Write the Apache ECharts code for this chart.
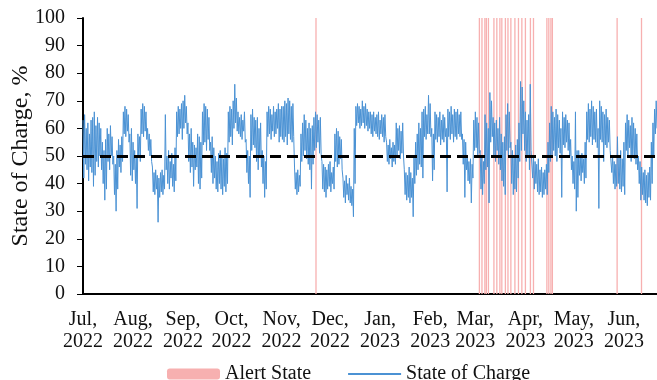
<!DOCTYPE html>
<html>
<head>
<meta charset="utf-8">
<script src="https://cdn.jsdelivr.net/npm/echarts@6/dist/echarts.min.js"></script>
<style>html,body{margin:0;padding:0;background:#fff}#c{width:657px;height:380px}</style>
</head>
<body>
<div id="c"></div>
<script>
// Day 0 = 1 Jul 2022
var monthStartDays = [0, 31, 62, 92, 123, 153, 184, 215, 243, 274, 304, 335];
var monthLabels = ['Jul,\n2022','Aug,\n2022','Sep,\n2022','Oct,\n2022','Nov,\n2022','Dec,\n2022','Jan,\n2023','Feb,\n2023','Mar,\n2023','Apr,\n2023','May,\n2023','Jun,\n2023'];

// daily high / low of State of Charge (%), days 0..355
var socHigh = [
63,65,60,62,58,63,64,66,61,64,62,60,55,52,56,60,58,61,57,50,47,52,56,54,57,66,68,67,65,58,60,55,52,50,58,57,67,69,68,66,60,58,56,46,44,45,43,42,44,45,43,65,50,52,48,51,47,53,66,68,67,69,70,72,68,62,58,60,55,54,53,58,
57,55,66,69,68,67,64,55,57,53,50,48,51,52,50,49,53,51,66,68,67,70,76,71,66,64,65,63,66,56,52,50,65,67,64,63,64,60,62,52,50,48,66,68,67,65,68,66,67,69,67,68,68,70,69,71,70,68,69,46,44,45,43,58,62,65,63,60,
62,60,61,64,66,65,63,64,48,47,46,45,47,48,44,46,58,60,59,57,56,42,41,43,40,42,39,38,60,68,69,68,67,70,68,69,67,66,66,65,66,64,65,66,63,65,64,65,55,54,56,53,55,54,62,60,61,59,62,45,44,43,46,44,42,50,55,58,62,60,
66,67,68,65,72,69,60,58,66,65,64,66,63,65,64,60,67,66,68,65,67,66,67,65,66,58,56,55,50,48,49,47,63,66,64,62,52,50,48,65,62,60,73,70,64,62,63,60,64,58,55,57,65,69,66,55,52,50,54,56,62,77,75,70,66,63,65,76,52,50,48,47,49,45,46,44,45,47,55,62,68,66,64,67,65,63,60,66,64,65,63,62,
56,50,48,66,52,52,50,51,49,55,66,69,67,70,68,66,67,60,70,68,66,65,67,64,63,52,50,48,47,57,50,52,49,55,62,65,63,61,64,62,60,58,50,48,46,44,45,43,44,46,55,62,67,70
];
var socLow = [
42,47,45,41,46,44,39,43,48,46,50,45,40,34,38,48,45,50,47,36,30,38,46,44,48,58,57,59,55,43,41,45,40,31,50,48,58,57,59,56,52,50,48,37,36,38,26,35,37,36,38,45,40,38,42,39,37,41,57,58,60,56,60,62,58,48,44,46,39,45,46,40,
38,42,54,55,52,56,52,44,40,42,38,37,40,38,36,39,37,40,55,57,54,60,62,59,58,57,56,59,55,44,40,35,52,54,53,48,45,50,46,40,35,38,57,58,56,59,57,58,60,55,57,56,55,57,54,58,56,55,57,38,36,37,39,48,50,52,49,47,
45,38,47,52,53,55,51,50,38,37,35,38,39,37,40,38,48,46,47,49,45,35,33,36,34,33,32,28,40,61,62,60,61,62,60,61,59,60,58,57,59,58,57,56,58,57,55,57,48,47,49,46,48,47,50,52,49,51,50,36,34,35,33,35,28,40,43,45,47,46,
42,57,56,58,58,57,41,45,56,55,57,54,56,55,57,37,57,56,58,55,57,56,58,57,56,47,35,45,41,40,33,42,52,53,50,51,38,36,40,45,46,33,55,57,50,48,52,47,45,41,39,36,52,50,53,40,36,38,37,42,48,52,58,52,48,50,45,52,42,38,40,37,36,37,35,36,38,36,44,48,50,52,50,48,53,51,35,54,53,55,52,50,
45,40,38,30,35,43,41,44,40,42,56,55,57,54,56,55,53,31,56,55,48,54,53,55,52,44,40,38,39,40,38,37,39,36,52,50,53,48,50,49,47,45,40,34,36,34,33,32,35,34,40,50,58,60
];
// days with an alert state
var alertDays = [144.3, 245.5, 247.1, 248.9, 249.8, 251.1, 254.5, 256.3, 258.2, 259.4, 261.6, 263.2, 265.0, 267.5, 269.7, 271.8, 274.0, 277.1, 279.0, 287.3, 288.5, 289.8, 290.7, 330.8, 345.9];
var threshold = 50;

var socData = [];
for (var d = 0; d < socHigh.length; d++) {
  socData.push([d, socHigh[d]]);
  socData.push([d + 0.5, socLow[d]]);
}
var alertData = alertDays.map(function (x) { return [x, 100]; });

var font = 'Liberation Serif';
var chart = echarts.init(document.getElementById('c'), null, {renderer: 'canvas'});
chart.setOption({
  animation: false,
  grid: {left: 83, right: 0, top: 18, bottom: 86, containLabel: false, outerBoundsMode: 'none'},
  legend: {
    data: [
      {name: 'Alert State'},
      {name: 'State of Charge', itemStyle: {opacity: 0}}
    ],
    left: 162, top: 359,
    itemWidth: 53, itemHeight: 11, itemGap: 36,
    textStyle: {fontFamily: font, fontSize: 20, color: '#111'}
  },
  xAxis: {
    type: 'value', min: 0, max: 355.5,
    axisLine: {show: true, lineStyle: {color: '#000', width: 2}},
    axisTick: {show: false},
    splitLine: {show: false},
    axisLabel: {
      customValues: monthStartDays,
      formatter: function (v) { var i = monthStartDays.indexOf(v); return i >= 0 ? monthLabels[i] : ''; },
      fontFamily: font, fontSize: 20, color: '#111', lineHeight: 22, margin: 15
    }
  },
  yAxis: {
    type: 'value', min: 0, max: 100, interval: 10,
    name: 'State of Charge, %', nameLocation: 'middle', nameGap: 50, nameMoveOverlap: false,
    nameTextStyle: {fontFamily: font, fontSize: 24, color: '#111'},
    axisLine: {show: true, lineStyle: {color: '#000', width: 2}},
    axisTick: {show: true, length: 6, lineStyle: {color: '#000', width: 1}},
    splitLine: {show: false},
    axisLabel: {fontFamily: font, fontSize: 20, color: '#111', margin: 18}
  },
  series: [
    {
      name: 'Alert State', type: 'bar', data: alertData, barWidth: 1.3, z: 1,
      itemStyle: {color: '#f7b0b0'}
    },
    {
      name: 'State of Charge', type: 'line', data: socData, symbol: 'none', showSymbol: false, z: 2,
      lineStyle: {color: '#4b92d4', width: 1}, itemStyle: {color: '#4b92d4'},
      markLine: {
        silent: true, symbol: 'none', label: {show: false},
        lineStyle: {color: '#000', width: 3, type: [11, 6]},
        data: [{yAxis: threshold}]
      }
    }
  ]
});
</script>
</body>
</html>
